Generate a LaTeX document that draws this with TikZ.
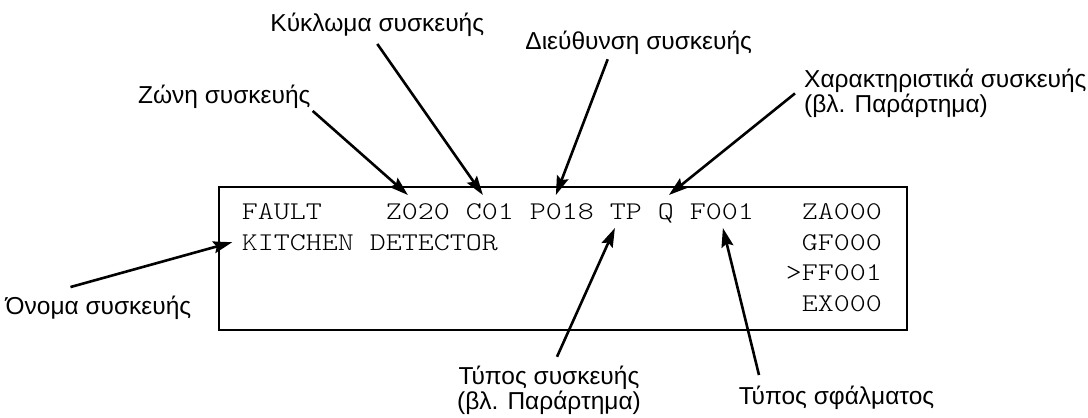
\documentclass[tikz,border=0pt]{standalone}
\usepackage{fontspec}
\setmainfont{Liberation Sans}
\newfontfamily\lcdfont{lmmonolt10-regular.otf}[FakeStretch=1.195]
\usetikzlibrary{arrows.meta}

\begin{document}
\begin{tikzpicture}[x=1pt,y=-1pt,
  panel/.style={draw,line width=2pt,minimum width=688pt,minimum height=143pt,inner sep=0pt},
  lcd/.style={font=\lcdfont\fontsize{25.5}{30}\selectfont,anchor=base west,inner xsep=0pt,inner ysep=8.5pt,text height=15.6pt,text depth=0pt},
  callout/.style={font=\fontsize{24.5}{25.5}\selectfont,inner sep=2pt},
  pointer/.style={-{Stealth[length=19pt,width=12pt,inset=3pt]},line width=2.6pt}]
  \useasboundingbox (0,0) rectangle (1088,418);
  \node[panel] (screen) at (563.4,258) {};
  % display lines
  \node[lcd] (fault) at (241.7,219.3) {FAULT};
  \node[lcd] (zone) at (385.7,219.3) {Z020};
  \node[lcd] (loop) at (465.7,219.3) {C01};
  \node[lcd] (addr) at (529.7,219.3) {P018};
  \node[lcd] (type) at (609.7,219.3) {TP};
  \node[lcd] (flag) at (657.7,219.3) {Q};
  \node[lcd] (code) at (689.7,219.3) {F001};
  \node[lcd] (za) at (801.7,219.3) {ZA000};
  \node[lcd] (name) at (241.7,250) {KITCHEN DETECTOR};
  \node[lcd] (gf) at (801.7,250) {GF000};
  \node[lcd] (ff) at (785.7,280.7) {>FF001};
  \node[lcd] (ex) at (801.7,311.4) {EX000};
  % labels
  \node[callout] (zonetxt) at (224.3,97) {Ζώνη συσκευής};
  \node[callout] (looptxt) at (377.3,25) {Κύκλωμα συσκευής};
  \node[callout] (addrtxt) at (638.7,43.3) {Διεύθυνση συσκευής};
  \node[callout,anchor=west,align=left] (flagtxt) at (802,93.4) {Χαρακτηριστικά συσκευής\\(βλ. Παράρτημα)};
  \node[callout,anchor=east] (nametxt) at (193.5,308) {Όνομα συσκευής};
  \node[callout,align=center] (typetxt) at (549,390.5) {Τύπος συσκευής\\(βλ. Παράρτημα)};
  \node[callout] (codetxt) at (836.5,398) {Τύπος σφάλματος};
  \path[pointer]
    (zonetxt.south east) edge ([xshift=-10pt]zone.north)
    ([yshift=-5pt]looptxt.south) edge ([xshift=-7pt]loop.north)
    ([xshift=-31pt,yshift=-2pt]addrtxt.south) edge ([xshift=-6pt]addr.north)
    ([xshift=-7pt]flagtxt.west) edge ([xshift=3pt]flag.north)
    ([xshift=-28pt,yshift=7pt]nametxt.north) edge ([xshift=-9.5pt]name.west)
    ([xshift=8pt,yshift=7pt]typetxt.north) edge ([xshift=-11pt]type.south)
    ([xshift=-77.5pt,yshift=9pt]codetxt.north) edge ([xshift=1pt]code.south);
\end{tikzpicture}
\end{document}
